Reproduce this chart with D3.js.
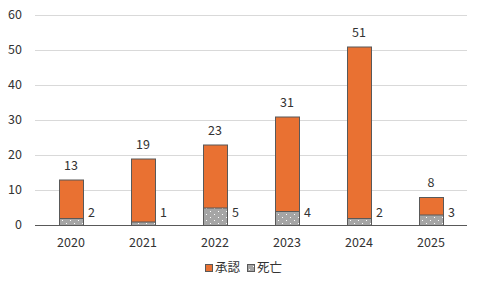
<!DOCTYPE html>
<html>
<head>
<meta charset="utf-8">
<script src="https://cdn.jsdelivr.net/npm/d3@7"></script>
<style>
  body { margin: 0; background: #fff; }
  svg { display: block; font-family: "Noto Sans CJK JP", "DejaVu Sans", sans-serif; }
</style>
</head>
<body>
<svg id="chart" width="480" height="288"></svg>
<script>
const years = ["2020", "2021", "2022", "2023", "2024", "2025"]
const approved = [13, 19, 23, 31, 51, 8]
const deaths = [2, 1, 5, 4, 2, 3]
const yTicks = [0, 10, 20, 30, 40, 50, 60]
const seriesNames = ["承認", "死亡"]

const svg = d3.select("#chart")
const width = 480, height = 288
const margin = { top: 15, right: 13, bottom: 63, left: 35 }
const textColor = "#333"

const x = d3.scaleBand()
    .domain(years)
    .range([margin.left, width - margin.right])
    .paddingInner(2 / 3)
    .paddingOuter(1 / 3)

const y = d3.scaleLinear()
    .domain([0, 60])
    .range([height - margin.bottom, margin.top])

// dotted pattern for grey series
const defs = svg.append("defs")
const pat = defs.append("pattern")
    .attr("id", "dots")
    .attr("patternUnits", "userSpaceOnUse")
    .attr("width", 8).attr("height", 6)
pat.append("rect").attr("width", 8).attr("height", 6).attr("fill", "#a5a5a5")
pat.append("rect").attr("x", 2).attr("y", 1).attr("width", 1).attr("height", 1).attr("fill", "#fff")
pat.append("rect").attr("x", 6).attr("y", 4).attr("width", 1).attr("height", 1).attr("fill", "#fff")

// gridlines
svg.append("g")
    .selectAll("line")
    .data(yTicks.slice(1))
    .join("line")
    .attr("x1", margin.left).attr("x2", width - margin.right)
    .attr("y1", d => y(d) + 0.5).attr("y2", d => y(d) + 0.5)
    .attr("stroke", "#d9d9d9")

// y labels
svg.append("g")
    .selectAll("text")
    .data(yTicks)
    .join("text")
    .attr("x", 22)
    .attr("y", d => y(d))
    .attr("dy", "0.35em")
    .attr("text-anchor", "end")
    .attr("font-size", 12.5)
    .attr("fill", textColor)
    .text(d => d)

// orange bars
svg.append("g")
    .selectAll("rect")
    .data(approved)
    .join("rect")
    .attr("x", (d, i) => x(years[i]) + 0.5)
    .attr("y", d => y(d) + 0.5)
    .attr("width", x.bandwidth())
    .attr("height", d => y(0) - y(d))
    .attr("fill", "#e97132")
    .attr("stroke", "#595959")
    .attr("stroke-width", 1)

// grey bars overlaid
svg.append("g")
    .selectAll("rect")
    .data(deaths)
    .join("rect")
    .attr("x", (d, i) => x(years[i]) + 0.5)
    .attr("y", d => y(d) + 0.5)
    .attr("width", x.bandwidth())
    .attr("height", d => y(0) - y(d))
    .attr("fill", "url(#dots)")
    .attr("stroke", "#595959")
    .attr("stroke-width", 1)

// x axis line
svg.append("line")
    .attr("x1", margin.left).attr("x2", width - margin.right)
    .attr("y1", y(0) + 0.5).attr("y2", y(0) + 0.5)
    .attr("stroke", "#595959")

// x labels
svg.append("g")
    .selectAll("text")
    .data(years)
    .join("text")
    .attr("x", d => x(d) + x.bandwidth() / 2)
    .attr("y", y(0) + 18)
    .attr("dy", "0.35em")
    .attr("text-anchor", "middle")
    .attr("font-size", 12.5)
    .attr("fill", textColor)
    .text(d => d)

// value labels
svg.append("g")
    .selectAll("text")
    .data(approved)
    .join("text")
    .attr("x", (d, i) => x(years[i]) + x.bandwidth() / 2)
    .attr("y", d => y(d) - 14)
    .attr("dy", "0.35em")
    .attr("text-anchor", "middle")
    .attr("font-size", 12.5)
    .attr("fill", textColor)
    .text(d => d)

svg.append("g")
    .selectAll("text")
    .data(deaths)
    .join("text")
    .attr("x", (d, i) => x(years[i]) + x.bandwidth() + 5)
    .attr("y", y(0) - 12)
    .attr("dy", "0.35em")
    .attr("font-size", 12.5)
    .attr("fill", textColor)
    .text(d => d)

// legend
const legend = svg.append("g").attr("transform", "translate(205,268)")
const items = legend.selectAll("g")
    .data(seriesNames)
    .join("g")
    .attr("transform", (d, i) => `translate(${i * 42},0)`)
items.append("rect")
    .attr("x", 0.5).attr("y", -3.5)
    .attr("width", 7).attr("height", 7)
    .attr("fill", (d, i) => i == 0 ? "#e97132" : "url(#dots)")
    .attr("stroke", "#595959")
items.append("text")
    .attr("x", 10)
    .attr("y", 0)
    .attr("dy", "0.35em")
    .attr("font-size", 12.5)
    .attr("fill", textColor)
    .text(d => d)
</script>
</body>
</html>
